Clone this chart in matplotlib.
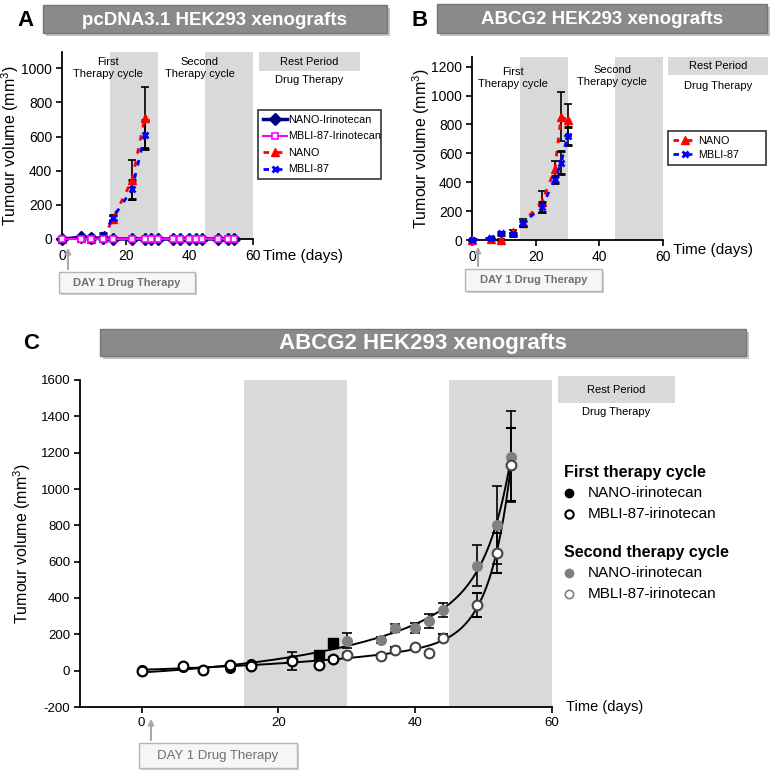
"""Tumour growth in HEK293 xenografts: three panel recreation."""

import matplotlib
matplotlib.use("Agg")
import matplotlib.pyplot as plt
import numpy as np
from matplotlib.lines import Line2D
from matplotlib.patches import Rectangle

plt.rcParams['font.family'] = ['Liberation Sans', 'DejaVu Sans']
plt.rcParams['mathtext.fontset'] = 'custom'
plt.rcParams['mathtext.rm'] = 'Liberation Sans'
plt.rcParams['axes.unicode_minus'] = False

W, H = 772, 779

# ---- Panel A: pcDNA3.1 HEK293 xenografts ----
a_days = [0, 6, 9, 13, 16, 22, 26, 28, 30, 35, 37, 40, 42, 44, 49, 52, 54]
a_nano_irino = [0, 10, 5, 5, 0, 0, 0, 0, 0, 0, 0, 0, 0, 0, 0, 0, 0]
a_mbli_irino = [0, 0, 0, 0, 0, 0, 0, 0, 0, 0, 0, 0, 0, 0, 0, 0, 0]
a_ctrl_days = [0, 6, 9, 13, 16, 22, 26]
a_nano = [0, 8, 0, 5, 120, 345, 710]
a_nano_err = [0, 5, 10, 10, 15, 115, 180]
a_mbli = [0, 12, 10, 25, 125, 290, 610]
a_mbli_err = [0, 5, 5, 10, 15, 55, 85]

# ---- Panel B: ABCG2 HEK293 xenografts (controls) ----
b_days = [0, 6, 9, 13, 16, 22, 26, 28, 30]
b_nano = [0, 10, 0, 58, 120, 265, 490, 854, 831]
b_nano_err = [0, 5, 5, 10, 25, 75, 60, 170, 110]
b_mbli = [0, 12, 46, 40, 115, 231, 420, 535, 720]
b_mbli_err = [0, 5, 10, 10, 20, 35, 25, 80, 60]

# ---- Panel C: ABCG2 HEK293 xenografts (treated) ----
c_first_days = [0, 6, 9, 13, 16, 22, 26, 28]
c_first_nano = [5, 18, 5, 12, 35, 60, 88, 150]
c_first_nano_err = [0, 5, 5, 5, 5, 10, 15, 20]
c_first_mbli = [0, 25, 5, 33, 27, 55, 30, 66]
c_first_mbli_err = [0, 5, 5, 5, 5, 50, 8, 10]
c_second_days = [30, 35, 37, 40, 42, 44, 49, 52, 54]
c_second_nano = [165, 170, 235, 235, 275, 335, 578, 803, 1178]
c_second_nano_err = [40, 15, 20, 25, 38, 40, 112, 215, 250]
c_second_mbli = [85, 82, 115, 128, 95, 182, 363, 649, 1134]
c_second_mbli_err = [10, 10, 15, 10, 10, 20, 65, 110, 200]

SHADE = '#d9d9d9'
DASH = (0, (2.0, 2.8))


def px_rect(left, top, right, bottom):
    """Pixel box (origin top-left) to figure fraction rect."""
    return [left / W, 1 - bottom / H, (right - left) / W, (bottom - top) / H]


def style_axes(ax, fs):
    for side in ('top', 'right'):
        ax.spines[side].set_visible(False)
    for side in ('left', 'bottom'):
        ax.spines[side].set_linewidth(1.3)
    ax.tick_params(labelsize=fs, length=4, width=1.2, pad=3)


def growth_fit(days, vols):
    """Least squares fit of a + b*exp(k1*t) + c*exp(k2*t), k1/k2 by grid search."""
    d = np.asarray(days, float)
    v = np.asarray(vols, float)
    best = None
    for k1 in np.linspace(0.01, 0.15, 29):
        for k2 in np.linspace(0.15, 0.9, 61):
            basis = np.column_stack([np.ones_like(d), np.exp(k1 * (d - d.max())),
                                     np.exp(k2 * (d - d.max()))])
            coef = np.linalg.lstsq(basis, v, rcond=None)[0]
            sse = np.sum((basis @ coef - v) ** 2)
            if best is None or sse < best[0]:
                best = (sse, k1, k2, coef)
    _, k1, k2, coef = best
    xs = np.linspace(d.min(), d.max(), 300)
    ys = coef[0] + coef[1] * np.exp(k1 * (xs - d.max())) + coef[2] * np.exp(k2 * (xs - d.max()))
    return xs, ys


fig = plt.figure(figsize=(W / 100, H / 100), dpi=100)

# ── Panel A ──────────────────────────────────────────────
ax_a = fig.add_axes(px_rect(62, 52, 253, 239))
style_axes(ax_a, 10)
ax_a.axvspan(15, 30, color=SHADE, lw=0, zorder=0)
ax_a.axvspan(45, 60, color=SHADE, lw=0, zorder=0)
ax_a.plot(a_days, a_nano_irino, color='#000080', lw=2.5, marker='D', ms=6.5,
          mfc='#000080', mec='#000080', clip_on=False, zorder=4)
ax_a.plot(a_days, a_mbli_irino, color='#ff00ff', lw=1.5, marker='s', ms=4.2,
          mfc='white', mec='#ff00ff', mew=1.2, clip_on=False, zorder=5)
ax_a.errorbar(a_ctrl_days, a_nano, yerr=a_nano_err, color='red', ecolor='black',
              elinewidth=1.2, capsize=3, capthick=1.2, lw=2.0, ls=DASH,
              marker='^', ms=5.5, clip_on=False, zorder=3)
ax_a.errorbar(a_ctrl_days, a_mbli, yerr=a_mbli_err, color='blue', ecolor='black',
              elinewidth=1.2, capsize=3, capthick=1.2, lw=2.0, ls=DASH,
              marker='x', ms=5, mew=2, clip_on=False, zorder=3)
ax_a.set_xlim(0, 60)
ax_a.set_ylim(0, 1095)
ax_a.set_xticks([0, 20, 40, 60])
ax_a.set_yticks(range(0, 1001, 200))
ax_a.set_ylabel('Tumour volume (mm$^{3}$)', fontsize=11.5)
ax_a.yaxis.set_label_coords(-0.215, 0.5)
ax_a.text(14.3, 1000, 'First\nTherapy cycle', ha='center', va='center',
          fontsize=8, linespacing=1.3)
ax_a.text(43.3, 1000, 'Second\nTherapy cycle', ha='center', va='center',
          fontsize=8, linespacing=1.3)
a_handles = [
    Line2D([], [], color='#000080', lw=2.5, marker='D', ms=6),
    Line2D([], [], color='#ff00ff', lw=1.5, marker='s', ms=4.2, mfc='white', mew=1.2),
    Line2D([], [], color='red', lw=2.0, ls=DASH, marker='^', ms=5.5),
    Line2D([], [], color='blue', lw=2.0, ls=DASH, marker='x', ms=5, mew=2),
]
leg_a = ax_a.legend(a_handles, ['NANO-Irinotecan', 'MBLI-87-Irinotecan', 'NANO', 'MBLI-87'],
                    loc='upper left', mode='expand',
                    bbox_to_anchor=(258 / W, 1 - 182 / H, 123 / W, 72 / H),
                    bbox_transform=fig.transFigure, fontsize=7.8, frameon=True,
                    fancybox=False, edgecolor='black', handlelength=2.2,
                    handletextpad=0.15, borderpad=0.45, labelspacing=0.6, borderaxespad=0)
leg_a.get_frame().set_linewidth(1.2)

# ── Panel B ──────────────────────────────────────────────
ax_b = fig.add_axes(px_rect(472, 57, 663, 240))
style_axes(ax_b, 10)
ax_b.axvspan(15, 30, color=SHADE, lw=0, zorder=0)
ax_b.axvspan(45, 60, color=SHADE, lw=0, zorder=0)
ax_b.errorbar(b_days, b_nano, yerr=b_nano_err, color='red', ecolor='black',
              elinewidth=1.2, capsize=3, capthick=1.2, lw=2.0, ls=DASH,
              marker='^', ms=6, clip_on=False, zorder=3)
ax_b.errorbar(b_days, b_mbli, yerr=b_mbli_err, color='blue', ecolor='black',
              elinewidth=1.2, capsize=3, capthick=1.2, lw=2.0, ls=DASH,
              marker='x', ms=5, mew=2, clip_on=False, zorder=4)
ax_b.set_xlim(0, 60)
ax_b.set_ylim(0, 1267)
ax_b.set_xticks([0, 20, 40, 60])
ax_b.set_yticks(range(0, 1201, 200))
ax_b.set_ylabel('Tumour volume (mm$^{3}$)', fontsize=11.5)
ax_b.yaxis.set_label_coords(-0.21, 0.5)
ax_b.text(13, 1120, 'First\nTherapy cycle', ha='center', va='center',
          fontsize=8, linespacing=1.3)
ax_b.text(44, 1135, 'Second\nTherapy cycle', ha='center', va='center',
          fontsize=8, linespacing=1.3)
leg_b = ax_b.legend(a_handles[2:], ['NANO', 'MBLI-87'], loc='upper left', mode='expand',
                    bbox_to_anchor=(668 / W, 1 - 166 / H, 98 / W, 35 / H),
                    bbox_transform=fig.transFigure,
                    fontsize=7.8, frameon=True, fancybox=False, edgecolor='black',
                    handlelength=2.2, handletextpad=0.15, borderpad=0.45,
                    labelspacing=0.35, borderaxespad=0)
leg_b.get_frame().set_linewidth(1.2)

# ── Panel C ──────────────────────────────────────────────
ax_c = fig.add_axes(px_rect(80, 380, 552, 707))
style_axes(ax_c, 9.5)
ax_c.axvspan(15, 30, color=SHADE, lw=0, zorder=0)
ax_c.axvspan(45, 60, color=SHADE, lw=0, zorder=0)

fx, fy = growth_fit(c_first_days + c_second_days, c_first_nano + c_second_nano)
ax_c.plot(fx, fy, color='black', lw=1.4, zorder=2)
fx, fy = growth_fit(c_first_days + c_second_days, c_first_mbli + c_second_mbli)
ax_c.plot(fx, fy, color='black', lw=1.4, zorder=2)

eb = dict(ls='none', ecolor='black', elinewidth=1.2, capsize=3.5, capthick=1.2, zorder=3)
ax_c.errorbar(c_second_days, c_second_nano, yerr=c_second_nano_err, marker='o', ms=7,
              mfc='#808080', mec='#808080', **eb)
ax_c.errorbar(c_second_days, c_second_mbli, yerr=c_second_mbli_err, marker='o', ms=7,
              mfc='white', mec='#444444', mew=1.5, **eb)
ax_c.errorbar(c_first_days, c_first_nano, yerr=c_first_nano_err, marker='none', **eb)
ax_c.errorbar(c_first_days, c_first_mbli, yerr=c_first_mbli_err, marker='none', **eb)
first_nano_marker = ['o', 'o', 'o', 'o', 'o', 'o', 's', 's']
for d, v, m in zip(c_first_days, c_first_nano, first_nano_marker):
    ax_c.plot(d, v, marker=m, ms=7, mfc='black', mec='black', ls='none', zorder=4)
ax_c.plot(c_first_days, c_first_mbli, 'o', ms=7, mfc='white', mec='black', mew=1.6, zorder=5)

ax_c.set_xlim(-9, 60)
ax_c.set_ylim(-200, 1600)
ax_c.set_xticks([0, 20, 40, 60])
ax_c.set_yticks(range(-200, 1601, 200))
ax_c.set_ylabel('Tumour volume (mm$^{3}$)', fontsize=11.5)
ax_c.yaxis.set_label_coords(-0.10, 0.5)

# ── Overlay: banners, notes, day-1 boxes ─────────────────
ov = fig.add_axes([0, 0, 1, 1])
ov.set_xlim(0, W)
ov.set_ylim(H, 0)
ov.axis('off')
ov.set_autoscale_on(False)


def banner(x0, y0, x1, y1, label, fs):
    ov.add_patch(Rectangle((x0 + 3, y0 + 3), x1 - x0, y1 - y0, fc='#c4c4c4', ec='none'))
    ov.add_patch(Rectangle((x0, y0), x1 - x0, y1 - y0, fc='#8a8a8a', ec='#767676', lw=1))
    ov.text((x0 + x1) / 2, (y0 + y1) / 2 + 1, label, ha='center', va='center',
            color='white', fontsize=fs, fontweight='bold')


def day1_box(x0, y0, x1, y1, arrow_x, arrow_top, fs, weight):
    ov.add_patch(Rectangle((x0 + 2, y0 + 2), x1 - x0, y1 - y0, fc='#d0d0d0', ec='none'))
    ov.add_patch(Rectangle((x0, y0), x1 - x0, y1 - y0, fc='#f6f6f6', ec='#b4b4b4', lw=1))
    ov.text((x0 + x1) / 2, (y0 + y1) / 2, 'DAY 1 Drug Therapy', ha='center', va='center',
            color='#707070', fontsize=fs, fontweight=weight)
    ov.annotate('', xy=(arrow_x, arrow_top), xytext=(arrow_x, y0),
                arrowprops=dict(arrowstyle='-|>', color='#a8a8a8', lw=1.5, mutation_scale=8))


def rest_key(x0, y0, x1, y1, text_y):
    ov.add_patch(Rectangle((x0, y0), x1 - x0, y1 - y0, fc=SHADE, ec='none'))
    ov.text((x0 + x1) / 2, (y0 + y1) / 2, 'Rest Period', ha='center', va='center', fontsize=8)
    ov.text((x0 + x1) / 2, text_y, 'Drug Therapy', ha='center', va='center', fontsize=8)


ov.text(25, 20, 'A', ha='center', va='center', fontsize=16, fontweight='bold')
ov.text(420, 20, 'B', ha='center', va='center', fontsize=16, fontweight='bold')
ov.text(31, 343, 'C', ha='center', va='center', fontsize=16, fontweight='bold')
banner(43, 5, 387, 33, 'pcDNA3.1 HEK293 xenografts', 13.5)
banner(437, 4, 767, 33, 'ABCG2 HEK293 xenografts', 13.5)
banner(100, 329, 746, 356, 'ABCG2 HEK293 xenografts', 16)

rest_key(259, 52, 360, 71, 80)
rest_key(668, 57, 768, 75, 86)
rest_key(558, 376, 675, 403, 412)

ov.text(263, 256, 'Time (days)', ha='left', va='center', fontsize=11)
ov.text(673, 250, 'Time (days)', ha='left', va='center', fontsize=11)
ov.text(566, 707, 'Time (days)', ha='left', va='center', fontsize=10.5)

day1_box(59, 272, 195, 293, 68, 245, 8, 'bold')
day1_box(465, 269, 602, 291, 478, 244, 8, 'bold')
day1_box(139, 743, 297, 768, 151, 716, 9.5, 'normal')

# panel C key
ov.text(564, 472, 'First therapy cycle', ha='left', va='center', fontsize=11.5,
        fontweight='bold')
ov.text(564, 553, 'Second therapy cycle', ha='left', va='center', fontsize=11.5,
        fontweight='bold')
key_rows = [
    (493, 'black', 'black', 1.0, 'NANO-irinotecan'),
    (514, 'white', 'black', 1.5, 'MBLI-87-irinotecan'),
    (573, '#808080', '#808080', 1.0, 'NANO-irinotecan'),
    (594, 'white', '#808080', 1.2, 'MBLI-87-irinotecan'),
]
for y, fc, ec, mew, label in key_rows:
    ov.plot(569, y, 'o', ms=6, mfc=fc, mec=ec, mew=mew)
    ov.text(588, y, label, ha='left', va='center', fontsize=11)

fig.savefig('out.png', dpi=100)
